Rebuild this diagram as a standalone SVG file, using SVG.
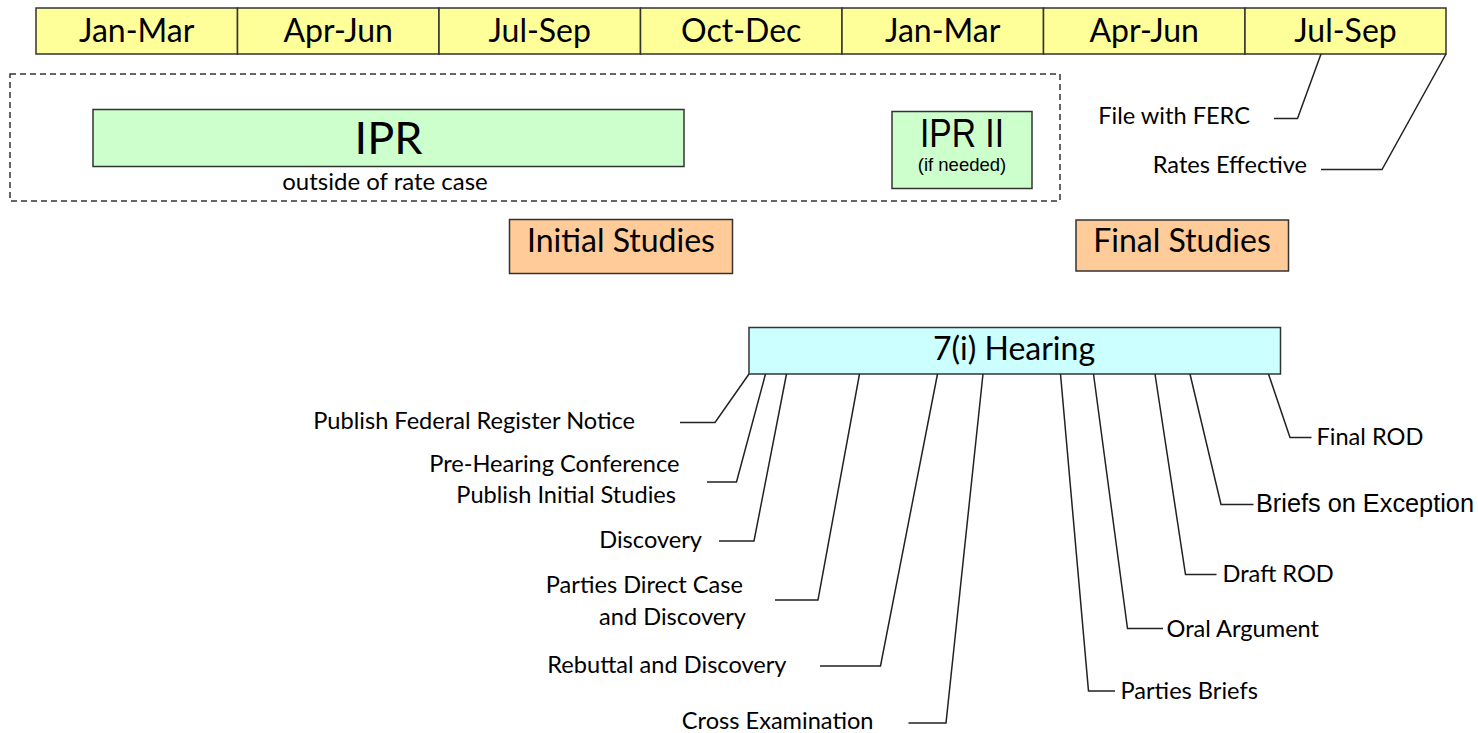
<svg xmlns="http://www.w3.org/2000/svg" width="1478" height="733" viewBox="0 0 1478 733">
<style>
.t{font-family:Lato,"Noto Sans",sans-serif;fill:#000}
.a{font-family:"Liberation Sans",Arial,sans-serif;fill:#000}
.mid{text-anchor:middle}
.end{text-anchor:end}
.cell{fill:#ffff99;stroke:#333;stroke-width:1.5}
.ipr{fill:#ccffcc;stroke:#333;stroke-width:1.5}
.study{fill:#ffcc99;stroke:#333;stroke-width:1.5}
.hear{fill:#ccffff;stroke:#333;stroke-width:1.5}
.big{font-size:32px}
.lbl{font-size:23.6px}
.conn polyline{fill:none;stroke:#222;stroke-width:1.5}
</style>

<g id="timeline">
  <g id="q1"><rect class="cell" x="36" y="8" width="201.5" height="46"/><text class="t big mid" x="136.7" y="42">Jan-Mar</text></g>
  <g id="q2"><rect class="cell" x="237.5" y="8" width="201.5" height="46"/><text class="t big mid" x="338.2" y="42">Apr-Jun</text></g>
  <g id="q3"><rect class="cell" x="439" y="8" width="201.5" height="46"/><text class="t big mid" x="539.7" y="42">Jul-Sep</text></g>
  <g id="q4"><rect class="cell" x="640.5" y="8" width="201.5" height="46"/><text class="t big mid" x="741.2" y="42">Oct-Dec</text></g>
  <g id="q5"><rect class="cell" x="842" y="8" width="201.5" height="46"/><text class="t big mid" x="942.7" y="42">Jan-Mar</text></g>
  <g id="q6"><rect class="cell" x="1043.5" y="8" width="201.5" height="46"/><text class="t big mid" x="1144.2" y="42">Apr-Jun</text></g>
  <g id="q7"><rect class="cell" x="1245" y="8" width="201" height="46"/><text class="t big mid" x="1345.5" y="42">Jul-Sep</text></g>
</g>

<g id="ipr-region">
  <rect x="10" y="74" width="1050" height="127" fill="none" stroke="#333" stroke-width="1.5" stroke-dasharray="6,4"/>
</g>

<g id="ipr">
  <rect class="ipr" x="93" y="109.5" width="591" height="57"/>
  <text class="t mid" x="388.5" y="154" font-size="45">IPR</text>
  <text class="t mid" x="385" y="190" font-size="24">outside of rate case</text>
</g>

<g id="ipr2">
  <rect class="ipr" x="892" y="111.5" width="140" height="77"/>
  <text class="a mid" x="962" y="146.5" font-size="40" textLength="84" lengthAdjust="spacingAndGlyphs">IPR II</text>
  <text class="a mid" x="962" y="171" font-size="18.5">(if needed)</text>
</g>

<g id="initial-studies">
  <rect class="study" x="509.5" y="219.5" width="223" height="54"/>
  <text class="t big mid" x="621" y="252">Initial Studies</text>
</g>

<g id="final-studies">
  <rect class="study" x="1076" y="220" width="212.5" height="51"/>
  <text class="t big mid" x="1182" y="252">Final Studies</text>
</g>

<g id="hearing">
  <rect class="hear" x="749" y="327.5" width="531.5" height="46.5"/>
  <text class="t big mid" x="1014" y="360">7(i) Hearing</text>
</g>

<g id="labels">
  <text class="t lbl end" x="1250" y="124">File with FERC</text>
  <text class="t lbl end" x="1307" y="173">Rates Effective</text>
  <text class="t lbl end" x="635" y="429">Publish Federal Register Notice</text>
  <text class="t lbl end" x="679.5" y="471.5">Pre-Hearing Conference</text>
  <text class="t lbl end" x="676" y="502.5">Publish Initial Studies</text>
  <text class="t lbl end" x="702" y="548">Discovery</text>
  <text class="t lbl end" x="743" y="592.5">Parties Direct Case</text>
  <text class="t lbl end" x="746" y="625">and Discovery</text>
  <text class="t lbl end" x="786.5" y="673">Rebuttal and Discovery</text>
  <text class="t lbl end" x="873.5" y="729">Cross Examination</text>
  <text class="t lbl" x="1316.5" y="445">Final ROD</text>
  <text class="a" x="1256" y="512" font-size="25.3">Briefs on Exception</text>
  <text class="t lbl" x="1222.5" y="581.5">Draft ROD</text>
  <text class="t lbl" x="1166.5" y="636.5">Oral Argument</text>
  <text class="t lbl" x="1120.5" y="699">Parties Briefs</text>
</g>

<g id="connectors" class="conn">
  <polyline points="1274,118.5 1297.5,118.5 1321,54"/>
  <polyline points="1321,169.5 1382,169.5 1446,54"/>
  <polyline points="680,422.5 715,422.5 749,374"/>
  <polyline points="707,482 736.5,482 765.5,374"/>
  <polyline points="719,541 754,541 786.5,374"/>
  <polyline points="775,600 818,600 859.5,374"/>
  <polyline points="820,666 880.5,666 937.5,374"/>
  <polyline points="908.5,723 946,723 983,374"/>
  <polyline points="1115,691 1088.5,691 1060.5,374"/>
  <polyline points="1163,628.5 1127.5,628.5 1093.5,374"/>
  <polyline points="1216.5,574.5 1185.5,574.5 1155,374"/>
  <polyline points="1253.5,504.5 1221,504.5 1190,374"/>
  <polyline points="1311.5,437.5 1290,437.5 1268.5,374"/>
</g>
</svg>
